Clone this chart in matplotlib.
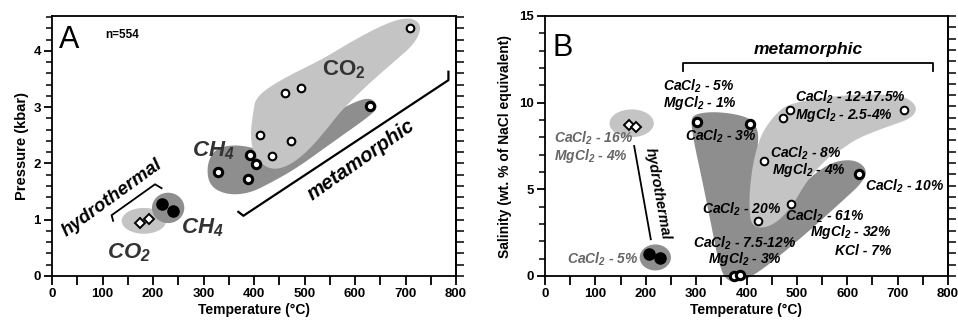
import numpy as np
import matplotlib
matplotlib.use("Agg")
import matplotlib.pyplot as plt
from matplotlib.patches import Polygon, Ellipse
from matplotlib.ticker import MultipleLocator

plt.rcParams['font.family'] = ['Liberation Sans', 'DejaVu Sans']
plt.rcParams['font.weight'] = 'bold'
plt.rcParams['mathtext.default'] = 'regular'

# ---------------- Panel A data ----------------
a_co2_hydro_T = [175, 193]
a_co2_hydro_P = [0.95, 1.02]
a_ch4_hydro_T = [217, 240]
a_ch4_hydro_P = [1.28, 1.15]
a_ch4_meta_T = [329, 389, 392, 403, 629]
a_ch4_meta_P = [1.85, 1.73, 2.15, 1.99, 3.02]
a_co2_meta_T = [411, 436, 473, 461, 494, 709]
a_co2_meta_P = [2.50, 2.14, 2.40, 3.25, 3.34, 4.41]

# region envelopes (data units)
a_ell_co2_hydro = (182, 0.98, 88, 0.46)
a_ell_ch4_hydro = (230, 1.21, 64, 0.54)
a_ch4_region_T = [306, 320, 352, 392, 425, 504, 557, 603, 632, 646, 632, 550, 485, 438, 392, 346, 312]
a_ch4_region_P = [1.94, 2.24, 2.33, 2.30, 2.18, 2.47, 2.89, 3.11, 3.17, 3.01, 2.86, 2.34, 1.92, 1.68, 1.47, 1.44, 1.60]
a_co2_region_T = [399, 392, 402, 432, 468, 507, 546, 572, 618, 671, 719, 733, 711, 669, 603, 537, 471, 425, 403]
a_co2_region_P = [2.95, 2.47, 2.10, 1.88, 1.95, 2.22, 2.63, 2.93, 3.34, 3.76, 4.13, 4.45, 4.60, 4.52, 4.22, 3.86, 3.57, 3.33, 3.14]

# ---------------- Panel B data ----------------
b_hydro_open_T = [167, 181]
b_hydro_open_S = [8.7, 8.6]
b_hydro_fill_T = [207, 229]
b_hydro_fill_S = [1.27, 1.06]
b_dark_T = [302, 406, 624, 376, 387]
b_dark_S = [8.89, 8.75, 5.90, -0.02, 0.08]
b_light_T = [473, 486, 713, 435, 488, 422]
b_light_S = [9.12, 9.58, 9.58, 6.64, 4.17, 3.17]

b_ell_light = (172, 8.81, 88, 1.6)
b_ell_dark = (219, 1.07, 62, 1.5)
b_dark_region_T = [289, 300, 334, 380, 412, 425, 420, 506, 546, 579, 617, 640, 631, 592, 533, 467, 420, 387, 359, 345, 332, 312, 296]
b_dark_region_S = [9.05, 9.36, 9.48, 9.34, 9.02, 8.23, 7.08, 5.15, 6.15, 6.65, 6.70, 6.14, 5.42, 4.37, 2.82, 1.19, 0.14, -0.36, -0.26, 0.73, 2.65, 5.54, 7.66]
b_light_region_T = [410, 405, 408, 417, 432, 460, 486, 572, 672, 720, 740, 727, 678, 619, 586, 559, 520, 486, 447]
b_light_region_S = [2.80, 4.00, 5.54, 7.08, 8.35, 9.42, 9.96, 10.40, 10.50, 10.30, 9.70, 9.08, 8.60, 7.93, 7.25, 6.77, 5.52, 3.79, 2.80]

b_labels = [
    ("CaCl$_2$ - 5%", 235, 10.95, 'k'),
    ("MgCl$_2$ - 1%", 235, 9.96, 'k'),
    ("CaCl$_2$ - 3%", 278, 8.04, 'k'),
    ("CaCl$_2$ - 12-17.5%", 497, 10.3, 'k'),
    ("MgCl$_2$ - 2.5-4%", 497, 9.28, 'k'),
    ("CaCl$_2$ - 8%", 447, 7.08, 'k'),
    ("MgCl$_2$ - 4%", 450, 6.12, 'k'),
    ("CaCl$_2$ - 10%", 635, 5.15, 'k'),
    ("CaCl$_2$ - 20%", 311, 3.85, 'k'),
    ("CaCl$_2$ - 61%", 476, 3.42, 'k'),
    ("MgCl$_2$ - 32%", 526, 2.52, 'k'),
    ("KCl - 7%", 576, 1.46, 'k'),
    ("CaCl$_2$ - 7.5-12%", 294, 1.89, 'k'),
    ("MgCl$_2$ - 3%", 324, 0.96, 'k'),
    ("CaCl$_2$ - 16%", 18, 7.95, '#666666'),
    ("MgCl$_2$ - 4%", 18, 6.92, '#666666'),
    ("CaCl$_2$ - 5%", 44, 0.98, '#666666'),
]

LIGHT = '#c4c4c4'
DARK = '#8e8e8e'


def chaikin(xs, ys, n=4):
    p = np.column_stack([xs, ys]).astype(float)
    for _ in range(n):
        q = np.roll(p, -1, axis=0)
        a = 0.75 * p + 0.25 * q
        b = 0.25 * p + 0.75 * q
        r = np.empty((2 * len(p), 2))
        r[0::2] = a
        r[1::2] = b
        p = r
    return p


def style_axes(ax, ymax, ymajor, yminor, right_ticks):
    ax.set_xlim(0, 800)
    ax.set_ylim(0, ymax)
    for s in ax.spines.values():
        s.set_linewidth(1.3)
    ax.xaxis.set_major_locator(MultipleLocator(100))
    ax.xaxis.set_minor_locator(MultipleLocator(50))
    ax.yaxis.set_major_locator(MultipleLocator(ymajor))
    ax.yaxis.set_minor_locator(MultipleLocator(yminor))
    ax.tick_params(axis='x', which='both', direction='out', length=6.5, width=1.3, labelsize=9.5, pad=2)
    ax.tick_params(axis='y', which='major', direction='out', length=6, width=1.3, labelsize=9.5, pad=2)
    ax.tick_params(axis='y', which='minor', direction='out', length=4.5, width=1.1)
    sec = ax.secondary_yaxis('right')
    sec.set_yticks(right_ticks)
    sec.tick_params(direction='out', length=6, width=1.1, labelright=False)
    sec.spines['right'].set_linewidth(1.3)
    ax.set_xlabel('Temperature (°C)', fontsize=10, fontweight='bold', labelpad=2)


fig = plt.figure(figsize=(9.58, 3.27), dpi=100)

# ================= Panel A =================
axA = fig.add_axes([52 / 958, 1 - 276 / 327, 404 / 958, 260 / 327])
style_axes(axA, 4.62, 1, 0.2, np.arange(0, 4.61, 0.2))
axA.set_ylabel('Pressure (kbar)', fontsize=10.5, fontweight='bold', labelpad=3)

axA.add_patch(Ellipse(a_ell_co2_hydro[:2], a_ell_co2_hydro[2], a_ell_co2_hydro[3], color=LIGHT, lw=0, zorder=1))
axA.add_patch(Ellipse(a_ell_ch4_hydro[:2], a_ell_ch4_hydro[2], a_ell_ch4_hydro[3], color=DARK, lw=0, zorder=1.1))
axA.add_patch(Polygon(chaikin(a_ch4_region_T, a_ch4_region_P), closed=True, color=DARK, lw=0, zorder=1))
axA.add_patch(Polygon(chaikin(a_co2_region_T, a_co2_region_P), closed=True, color=LIGHT, lw=0, zorder=1.2))

axA.plot(a_co2_hydro_T, a_co2_hydro_P, ls='none', marker='D', ms=5, mfc='white', mec='k', mew=1.4, zorder=3)
axA.plot(a_ch4_hydro_T, a_ch4_hydro_P, ls='none', marker='o', ms=8, mfc='k', mec='k', zorder=3)
axA.plot(a_ch4_meta_T, a_ch4_meta_P, ls='none', marker='o', ms=6, mfc='white', mec='k', mew=2.2, zorder=3)
axA.plot(a_co2_meta_T, a_co2_meta_P, ls='none', marker='o', ms=5.5, mfc='white', mec='k', mew=1.5, zorder=3)

# brackets
axA.plot([121, 118, 204, 217], [0.98, 1.08, 1.63, 1.56], color='k', lw=1.3, zorder=4)
axA.plot([369, 379, 785, 785], [1.14, 1.07, 3.48, 3.63], color='k', lw=1.6, zorder=4)

axA.text(14, 4.06, 'A', fontsize=22, fontweight='normal', zorder=5)
axA.text(105, 4.28, 'n=554', fontsize=8.5, fontweight='bold', va='center', zorder=5)
axA.text(578, 3.66, 'CO$_2$', fontsize=16, fontweight='bold', color='#333333', ha='center', va='center', zorder=5)
axA.text(320, 2.22, 'CH$_4$', fontsize=16, fontweight='bold', style='italic', color='#333333', ha='center', va='center', zorder=5)
axA.text(298, 0.85, 'CH$_4$', fontsize=16, fontweight='bold', style='italic', color='#333333', ha='center', va='center', zorder=5)
axA.text(152, 0.42, 'CO$_2$', fontsize=16, fontweight='bold', style='italic', color='#333333', ha='center', va='center', zorder=5)
axA.text(119, 1.38, 'hydrothermal', fontsize=13.5, fontweight='bold', style='italic', rotation=36, ha='center', va='center', zorder=5)
axA.text(612, 2.06, 'metamorphic', fontsize=14.5, fontweight='bold', style='italic', rotation=35, ha='center', va='center', zorder=5)

# ================= Panel B =================
axB = fig.add_axes([545 / 958, 1 - 276 / 327, 403 / 958, 260 / 327])
style_axes(axB, 15, 5, 1, np.linspace(0, 15, 24))
axB.set_ylabel('Salinity (wt. % of NaCl equivalent)', fontsize=10, fontweight='bold', labelpad=5)

axB.add_patch(Ellipse(b_ell_light[:2], b_ell_light[2], b_ell_light[3], color=LIGHT, lw=0, zorder=1))
axB.add_patch(Ellipse(b_ell_dark[:2], b_ell_dark[2], b_ell_dark[3], color=DARK, lw=0, zorder=1))
axB.add_patch(Polygon(chaikin(b_dark_region_T, b_dark_region_S), closed=True, color=DARK, lw=0, zorder=1, clip_on=False))
axB.add_patch(Polygon(chaikin(b_light_region_T, b_light_region_S), closed=True, color=LIGHT, lw=0, zorder=1.2))

axB.plot(b_hydro_open_T, b_hydro_open_S, ls='none', marker='D', ms=5, mfc='white', mec='k', mew=1.4, zorder=3)
axB.plot(b_hydro_fill_T, b_hydro_fill_S, ls='none', marker='o', ms=8, mfc='k', mec='k', zorder=3)
axB.plot(b_dark_T, b_dark_S, ls='none', marker='o', ms=6, mfc='white', mec='k', mew=2.2, zorder=3, clip_on=False)
axB.plot(b_light_T, b_light_S, ls='none', marker='o', ms=5.5, mfc='white', mec='k', mew=1.4, zorder=3)

axB.plot([273, 273, 771, 771], [11.85, 12.27, 12.27, 11.85], color='k', lw=1.3, zorder=4)
axB.plot([177, 210], [7.5, 2.12], color='k', lw=1.3, zorder=4)

axB.text(14, 12.7, 'B', fontsize=22, fontweight='normal', zorder=5)
axB.text(523, 13.04, 'metamorphic', fontsize=12.5, fontweight='bold', style='italic', ha='center', va='center', zorder=5)
axB.text(224, 4.77, 'hydrothermal', fontsize=10.5, fontweight='bold', style='italic', rotation=-80, ha='center', va='center', zorder=5)

for txt, x, y, c in b_labels:
    axB.text(x, y, txt, fontsize=10, fontweight='bold', style='italic', color=c, ha='left', va='center', zorder=5)

fig.savefig('out.png', dpi=100)
